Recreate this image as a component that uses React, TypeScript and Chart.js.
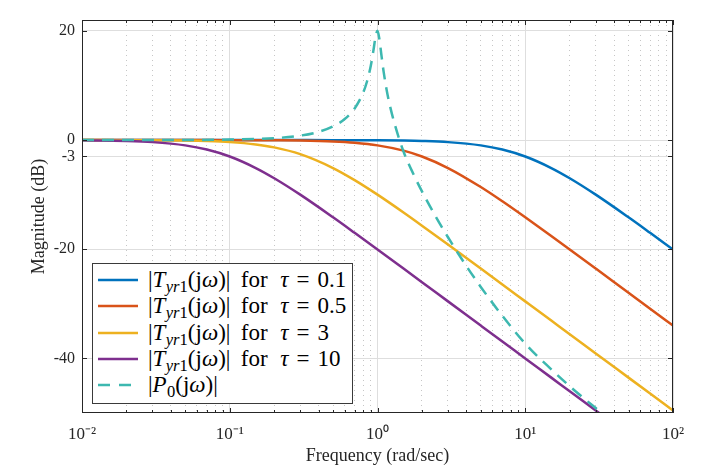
import React, { useEffect, useRef } from 'react';
import { Chart, registerables } from 'chart.js';

Chart.register(...registerables);

// ---------- data ----------
const freqT = [0.01, 0.02, 0.03, 0.05, 0.07, 0.1, 0.15, 0.2, 0.3, 0.5, 0.7, 1, 1.5, 2, 3, 5, 7, 10, 15, 20, 30, 50, 70, 100];
const magTau01 = [0, 0, 0, 0, 0, 0, 0, 0, -0.004, -0.011, -0.021, -0.043, -0.097, -0.17, -0.374, -0.969, -1.732, -3.01, -5.119, -6.99, -10.0, -14.15, -16.99, -20.04];
const magTau05 = [0, 0, 0, -0.003, -0.005, -0.011, -0.024, -0.043, -0.097, -0.263, -0.502, -0.969, -1.938, -3.01, -5.119, -8.603, -11.22, -14.15, -17.58, -20.04, -23.54, -27.97, -30.88, -33.98];
const magTau3 = [-0.004, -0.016, -0.035, -0.097, -0.187, -0.374, -0.802, -1.335, -2.577, -5.119, -7.332, -10.0, -13.27, -15.68, -19.14, -23.54, -26.45, -29.55, -33.07, -35.56, -39.09, -43.52, -46.44, -49.54];
const magTau10 = [-0.043, -0.17, -0.374, -0.969, -1.732, -3.01, -5.119, -6.99, -10.0, -14.15, -16.99, -20.04, -23.54, -26.03, -29.55, -33.98, -36.9, -40.0, -43.52, -46.02, -49.54, -53.98, -56.9, -60.0];

const freqP0 = [0.01, 0.05, 0.1, 0.2, 0.3, 0.4, 0.5, 0.6, 0.7, 0.8, 0.85, 0.9, 0.94, 0.97, 1.0, 1.03, 1.06, 1.1, 1.15, 1.2, 1.3, 1.5, 1.7, 2, 2.5, 3, 4, 5, 7, 10, 15, 20, 30, 40];
const magP0 = [0, 0.02, 0.09, 0.35, 0.82, 1.51, 2.49, 3.85, 5.79, 8.69, 10.78, 13.58, 16.54, 18.93, 20.04, 18.49, 15.82, 12.55, 9.37, 6.88, 3.15, -2.1, -5.5, -9.4, -14.2, -17.8, -23.1, -26.9, -32.2, -37.3, -42.0, -45.1, -49.1, -51.8];

const tauLabels = ['0.1', '0.5', '3', '10'];
const yTickValues = [20, 0, -3, -20, -40];
const xDecades = [0.01, 0.1, 1, 10, 100];
const xTickLabels = ['10\u207B\u00B2', '10\u207B\u00B9', '10\u2070', '10\u00B9', '10\u00B2'];

// ---------- styles ----------
const tauColors = ['#0072BD', '#D95319', '#EDB120', '#7E2F8E'];
const p0Color = '#3DB8B0';
const serif = "'Liberation Serif', 'Times New Roman', serif";
const W = 702;
const H = 474;

const frameTicksPlugin = {
  id: 'frameTicks',
  afterDatasetsDraw(chart: any) {
    const { ctx, chartArea: a, scales } = chart;
    const xs = scales.x;
    const ys = scales.y;
    ctx.save();
    ctx.strokeStyle = '#262626';
    ctx.lineWidth = 1;
    ctx.beginPath();
    for (const t of xs.ticks) {
      const px = Math.round(xs.getPixelForValue(t.value)) + 0.5;
      const len = t.major ? 5 : 3;
      ctx.moveTo(px, a.bottom);
      ctx.lineTo(px, a.bottom - len);
      ctx.moveTo(px, a.top);
      ctx.lineTo(px, a.top + len);
    }
    for (const t of ys.ticks) {
      const py = Math.round(ys.getPixelForValue(t.value)) + 0.5;
      ctx.moveTo(a.left, py);
      ctx.lineTo(a.left + 5, py);
      ctx.moveTo(a.right, py);
      ctx.lineTo(a.right - 5, py);
    }
    ctx.stroke();
    ctx.strokeRect(a.left + 0.5, a.top + 0.5, a.right - a.left - 1, a.bottom - a.top - 1);
    ctx.restore();
  },
};

function toPoints(xs: number[], ys: number[]) {
  return xs.map((x, i) => ({ x, y: ys[i] }));
}

function LegendMath({ tau }: { tau?: string }) {
  const sub: React.CSSProperties = { fontSize: '0.72em', position: 'relative', top: '0.3em', lineHeight: 0, marginLeft: '0.02em' };
  if (tau === undefined) {
    return (
      <span style={{ whiteSpace: 'nowrap' }}>
        |<i>P</i><span style={sub}>0</span>(j<i>ω</i>)|
      </span>
    );
  }
  return (
    <span style={{ whiteSpace: 'nowrap' }}>
      |<i>T</i><span style={sub}><i>yr</i>1</span>(j<i>ω</i>)|
      <span style={{ marginLeft: '0.45em' }}>for</span>
      <i style={{ marginLeft: '0.55em' }}>τ</i>
      <span style={{ margin: '0 0.35em' }}>=</span>
      {tau}
    </span>
  );
}

export default function App() {
  const canvasRef = useRef<HTMLCanvasElement | null>(null);

  useEffect(() => {
    const canvas = canvasRef.current;
    if (!canvas) return;
    const tauSeries = [magTau01, magTau05, magTau3, magTau10];
    const datasets: any[] = tauSeries.map((m, i) => ({
      label: `|Tyr1(jω)| for τ = ${tauLabels[i]}`,
      data: toPoints(freqT, m),
      borderColor: tauColors[i],
      backgroundColor: tauColors[i],
      borderWidth: 2.5,
      pointRadius: 0,
      fill: false,
      cubicInterpolationMode: 'monotone',
      order: 4 - i,
    }));
    datasets.push({
      label: '|P0(jω)|',
      data: toPoints(freqP0, magP0),
      borderColor: p0Color,
      backgroundColor: p0Color,
      borderWidth: 2.5,
      borderDash: [12, 8],
      pointRadius: 0,
      fill: false,
      cubicInterpolationMode: 'monotone',
      order: 0,
    });

    const chart = new Chart(canvas, {
      type: 'line',
      data: { datasets },
      plugins: [frameTicksPlugin],
      options: {
        animation: false,
        responsive: false,
        devicePixelRatio: 1,
        layout: { padding: { top: 20, right: 29, left: 0, bottom: 0 } },
        plugins: { legend: { display: false }, tooltip: { enabled: false } },
        scales: {
          x: {
            type: 'logarithmic',
            min: 0.01,
            max: 100,
            afterBuildTicks: (scale: any) => {
              const t: any[] = [];
              xDecades.forEach((d, i) => {
                if (i === xDecades.length - 1) {
                  t.push({ value: d, major: true });
                  return;
                }
                for (let m = 1; m <= 9; m++) t.push({ value: d * m, major: m === 1 });
              });
              scale.ticks = t;
            },
            afterFit: (scale: any) => {
              scale.height = 61;
            },
            grid: {
              drawTicks: false,
              color: (c: any) => (c.tick && c.tick.major ? '#dedede' : '#c6c6c6'),
              lineWidth: 1,
            },
            border: {
              display: false,
              dash: (c: any) => (c.tick && !c.tick.major ? [1, 4] : []),
            },
            ticks: {
              autoSkip: false,
              maxRotation: 0,
              padding: 11,
              color: '#262626',
              font: { family: serif, size: 17 },
              callback: (value: any) => {
                const v = Number(value);
                const i = xDecades.findIndex((d) => Math.abs(d - v) / d < 1e-6);
                return i >= 0 ? xTickLabels[i] : '';
              },
            },
            title: {
              display: true,
              text: 'Frequency (rad/sec)',
              color: '#262626',
              font: { family: serif, size: 18 },
              padding: { top: 0, bottom: 7 },
            },
          },
          y: {
            type: 'linear',
            min: -50,
            max: 22,
            afterBuildTicks: (scale: any) => {
              scale.ticks = yTickValues.map((v) => ({ value: v }));
            },
            afterFit: (scale: any) => {
              scale.width = 82;
            },
            grid: { drawTicks: false, color: '#dedede', lineWidth: 1 },
            border: { display: false },
            ticks: {
              padding: 7,
              color: '#262626',
              font: { family: serif, size: 16 },
              callback: (value: any) => String(value),
            },
            title: {
              display: true,
              text: 'Magnitude (dB)',
              color: '#262626',
              font: { family: serif, size: 18 },
              padding: { top: 28, bottom: 0 },
            },
          },
        },
      } as any,
    });
    return () => chart.destroy();
  }, []);

  const rows = [
    ...tauLabels.map((t, i) => ({ color: tauColors[i], dashed: false, tau: t as string | undefined })),
    { color: p0Color, dashed: true, tau: undefined as string | undefined },
  ];

  return (
    <div style={{ position: 'absolute', left: 0, top: 0, width: W, height: H, background: '#fff' }}>
      <canvas ref={canvasRef} width={W} height={H} style={{ display: 'block', width: W, height: H }} />
      <div
        style={{
          position: 'absolute',
          left: 92,
          top: 263,
          width: 261,
          height: 141,
          boxSizing: 'border-box',
          border: '1px solid #3a3a3a',
          background: '#fff',
          fontFamily: serif,
          fontSize: 23,
          color: '#000',
        }}
      >
        {rows.map((r, i) => (
          <div
            key={i}
            style={{
              position: 'absolute',
              left: 0,
              top: 2.6 + i * 26.4,
              height: 26.4,
              display: 'flex',
              alignItems: 'center',
            }}
          >
            <svg width={40} height={8} style={{ marginLeft: 5, display: 'block' }}>
              <line
                x1={0}
                y1={4}
                x2={40}
                y2={4}
                stroke={r.color}
                strokeWidth={2.5}
                strokeDasharray={r.dashed ? '12 9' : undefined}
              />
            </svg>
            <span style={{ marginLeft: 10, lineHeight: '26px' }}>
              <LegendMath tau={r.tau} />
            </span>
          </div>
        ))}
      </div>
    </div>
  );
}
